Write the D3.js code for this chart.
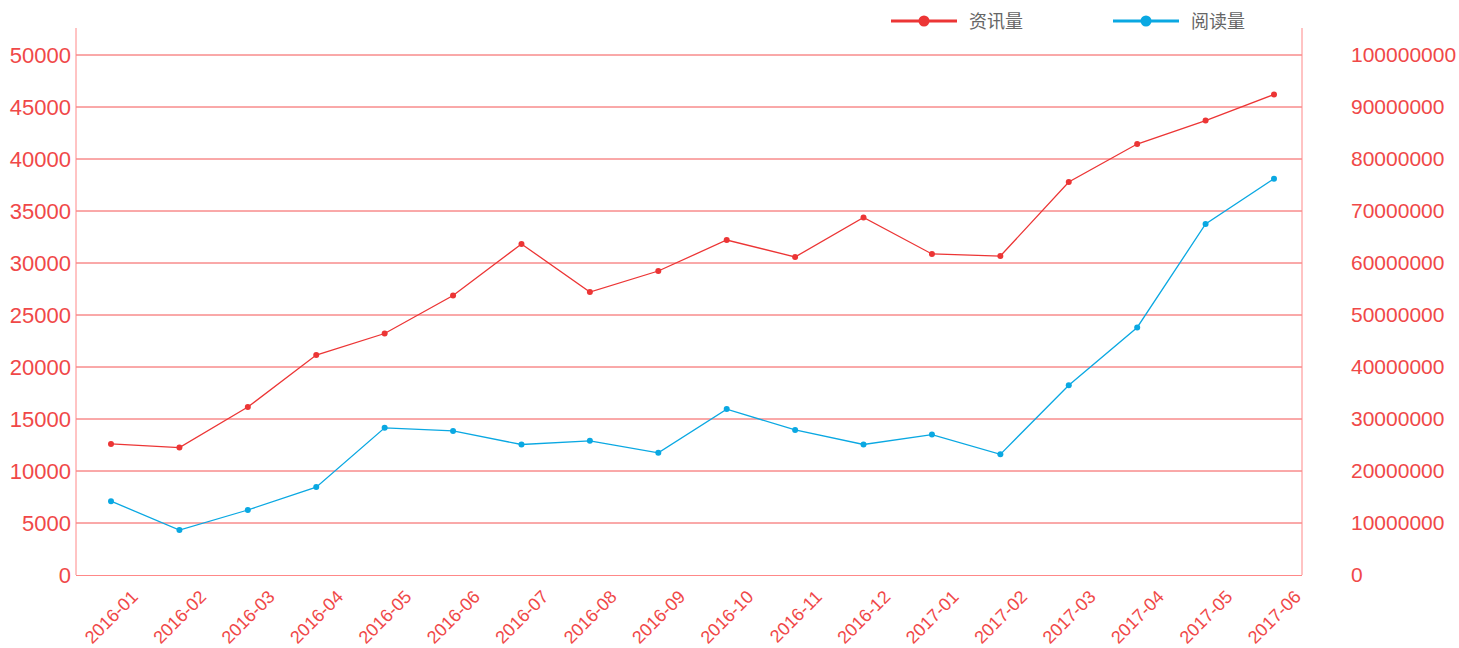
<!DOCTYPE html>
<html><head><meta charset="utf-8">
<script src="https://cdn.jsdelivr.net/npm/d3@7"></script>
<style>body{margin:0;background:#fff}svg{display:block}</style>
</head><body>
<svg id="c" width="1459" height="648"></svg>
<script>
const categories = ["2016-01","2016-02","2016-03","2016-04","2016-05","2016-06","2016-07","2016-08","2016-09","2016-10","2016-11","2016-12","2017-01","2017-02","2017-03","2017-04","2017-05","2017-06"];
const newsCount = [12600,12250,16150,21150,23220,26870,31830,27210,29230,32210,30580,34380,30870,30670,37790,41440,43700,46200];
const readCount = [14200000,8650000,12500000,16900000,28300000,27700000,25100000,25800000,23500000,31900000,27900000,25100000,27000000,23200000,36500000,47600000,67500000,76200000];
const leftTicks = [0,5000,10000,15000,20000,25000,30000,35000,40000,45000,50000];
const rightTicks = [0,10000000,20000000,30000000,40000000,50000000,60000000,70000000,80000000,90000000,100000000];
const seriesNames = ["资讯量","阅读量"];

const svg = d3.select("#c");
const L = 76, R = 1302, T = 28, B = 575, TOPGRID = 55;
const font = "'Liberation Sans', Arial, sans-serif";
const x = d3.scalePoint().domain(categories).range([111, 1274]);
const yL = d3.scaleLinear().domain([0, 50000]).range([B, TOPGRID]);
const yR = d3.scaleLinear().domain([0, 100000000]).range([B, TOPGRID]);
const red = "#ec3535", blue = "#0aa8e2", tickColor = "#f04848", axisColor = "#f88";

// grid
svg.append("g").selectAll("line").data(leftTicks.filter(d => d > 0)).join("line")
  .attr("x1", L).attr("x2", R).attr("y1", d => yL(d)).attr("y2", d => yL(d))
  .attr("stroke", "#f45252").attr("stroke-width", 1);

// left axis
const gl = svg.append("g").attr("transform", `translate(${L},0)`)
  .call(d3.axisLeft(yL).tickValues(leftTicks).tickSize(0).tickPadding(5).tickFormat(d3.format("d")));
gl.select(".domain").remove();
gl.selectAll("text").attr("fill", tickColor).style("font", `22px ${font}`);

// right axis
const gr = svg.append("g").attr("transform", `translate(${R},0)`)
  .call(d3.axisRight(yR).tickValues(rightTicks).tickSize(0).tickPadding(49).tickFormat(d3.format("d")));
gr.select(".domain").remove();
gr.selectAll("text").attr("fill", tickColor).style("font", `21px ${font}`);

// x axis labels
const gx = svg.append("g");
gx.selectAll("text").data(categories).join("text")
  .attr("transform", d => `translate(${x(d) + 28},${B + 23}) rotate(-45)`)
  .attr("text-anchor", "end")
  .attr("fill", tickColor).style("font", `18px ${font}`)
  .text(d => d);

// axis lines
svg.append("line").attr("x1", L).attr("x2", L).attr("y1", T).attr("y2", B).attr("stroke", axisColor);
svg.append("line").attr("x1", R).attr("x2", R).attr("y1", T).attr("y2", B).attr("stroke", axisColor);
svg.append("line").attr("x1", L).attr("x2", R).attr("y1", B + 0.5).attr("y2", B + 0.5).attr("stroke", axisColor);

function drawSeries(vals, scale, color) {
  const g = svg.append("g");
  g.append("path").datum(vals)
    .attr("d", d3.line().x((d, i) => x(categories[i])).y(d => scale(d)))
    .attr("fill", "none").attr("stroke", color).attr("stroke-width", 1.3);
  g.selectAll("circle").data(vals).join("circle")
    .attr("cx", (d, i) => x(categories[i])).attr("cy", d => scale(d)).attr("r", 3)
    .attr("fill", color);
}
drawSeries(newsCount, yL, red);
drawSeries(readCount, yR, blue);

// legend
const legendX = [891, 1113], legendColors = [red, blue];
const lg = svg.append("g");
seriesNames.forEach((n, i) => {
  const g = lg.append("g").attr("transform", `translate(${legendX[i]},21)`);
  g.append("line").attr("x1", 0).attr("x2", 66).attr("stroke", legendColors[i]).attr("stroke-width", 3);
  g.append("circle").attr("cx", 33).attr("r", 5.5).attr("fill", legendColors[i]);
  g.append("text").attr("x", 78).attr("y", 7).attr("fill", "#666")
    .style("font", "18px 'Noto Sans CJK SC', sans-serif").text(n);
});
</script>
</body></html>
